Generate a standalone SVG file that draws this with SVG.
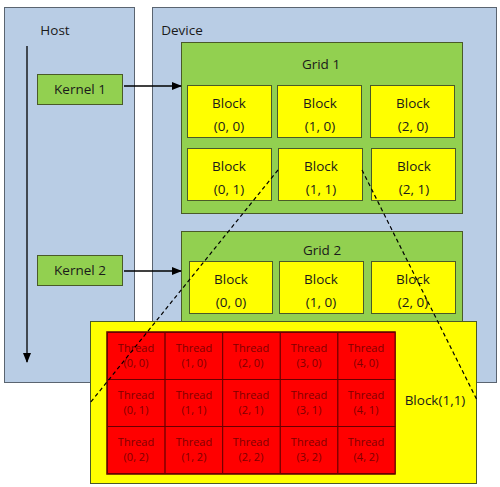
<svg xmlns="http://www.w3.org/2000/svg" width="500" height="487" viewBox="0 0 500 487">
<style>
text{font-family:"Open Sans","Liberation Sans",sans-serif;fill:#1a1a1a;text-anchor:middle}
.panel{fill:#b9cde5;stroke:#5a6470;stroke-width:1}
.green{fill:#92d050;stroke:#4a5a28;stroke-width:1}
.block{fill:#ffff00;stroke:#4a5a28;stroke-width:1}
.thr{fill:#ff0000;stroke:#6a0000;stroke-width:1}
.t13{font-size:13.5px}
.t11{font-size:11px;fill:#800000}
.conn{stroke:#000;stroke-width:1.3;fill:none}
.dash{stroke:#000;stroke-width:1.2;stroke-dasharray:4,3;fill:none}
</style>
<defs>
<marker id="ah" markerWidth="10" markerHeight="8" refX="9" refY="4" orient="auto" markerUnits="userSpaceOnUse">
<path d="M0,0 L10,4 L0,8 Z" fill="#000"/>
</marker>
</defs>
<g id="host">
<rect class="panel" x="4.5" y="7.5" width="130" height="375"/>
<text class="t13" x="55" y="35">Host</text>
</g>
<g id="device">
<rect class="panel" x="152.5" y="7.5" width="344" height="375"/>
<text class="t13" x="182" y="35">Device</text>
</g>
<g id="kernel1">
<rect class="green" x="37.5" y="74.5" width="85" height="30"/>
<text class="t13" x="80" y="94">Kernel 1</text>
</g>
<g id="kernel2">
<rect class="green" x="37.5" y="255.5" width="85" height="30"/>
<text class="t13" x="80" y="275">Kernel 2</text>
</g>
<g id="grid1">
<rect class="green" x="181.5" y="42.5" width="281" height="171"/>
<text class="t13" x="321" y="69">Grid 1</text>
</g>
<g id="g1b00"><rect class="block" x="187.5" y="85.5" width="84" height="52"/><text class="t13" x="229" y="108">Block</text><text class="t13" x="229" y="131">(0, 0)</text></g>
<g id="g1b10"><rect class="block" x="277.5" y="85.5" width="84" height="52"/><text class="t13" x="320" y="108">Block</text><text class="t13" x="320" y="131">(1, 0)</text></g>
<g id="g1b20"><rect class="block" x="370.5" y="85.5" width="84" height="52"/><text class="t13" x="413" y="108">Block</text><text class="t13" x="413" y="131">(2, 0)</text></g>
<g id="g1b01"><rect class="block" x="187.5" y="148.5" width="84" height="52"/><text class="t13" x="229" y="171">Block</text><text class="t13" x="229" y="194">(0, 1)</text></g>
<g id="g1b11"><rect class="block" x="278.5" y="148.5" width="84" height="52"/><text class="t13" x="321" y="171">Block</text><text class="t13" x="321" y="194">(1, 1)</text></g>
<g id="g1b21"><rect class="block" x="371.5" y="148.5" width="84" height="52"/><text class="t13" x="414" y="171">Block</text><text class="t13" x="414" y="194">(2, 1)</text></g>
<g id="grid2">
<rect class="green" x="181.5" y="231.5" width="281" height="100"/>
<text class="t13" x="322" y="255">Grid 2</text>
</g>
<g id="g2b00"><rect class="block" x="189.5" y="261.5" width="83" height="52"/><text class="t13" x="231" y="284">Block</text><text class="t13" x="231" y="307">(0, 0)</text></g>
<g id="g2b10"><rect class="block" x="279.5" y="261.5" width="84" height="52"/><text class="t13" x="321" y="284">Block</text><text class="t13" x="321" y="307">(1, 0)</text></g>
<g id="g2b20"><rect class="block" x="371.5" y="261.5" width="84" height="52"/><text class="t13" x="413" y="284">Block</text><text class="t13" x="413" y="307">(2, 0)</text></g>
<g id="block11">
<rect class="block" x="90.5" y="321.5" width="386" height="162"/>
<text class="t13" x="435" y="405">Block(1,1)</text>
</g>
<g id="threads">
<rect x="107" y="332" width="288" height="142" fill="#ff0000" stroke="#5a0000" stroke-width="1.5"/>
<g id="t00"><rect class="thr" x="107.5" y="332.5" width="57.6" height="47"/><text class="t11" x="136" y="352">Thread</text><text class="t11" x="136" y="367">(0, 0)</text></g>
<g id="t10"><rect class="thr" x="165.1" y="332.5" width="57.6" height="47"/><text class="t11" x="194" y="352">Thread</text><text class="t11" x="194" y="367">(1, 0)</text></g>
<g id="t20"><rect class="thr" x="222.7" y="332.5" width="57.6" height="47"/><text class="t11" x="251" y="352">Thread</text><text class="t11" x="251" y="367">(2, 0)</text></g>
<g id="t30"><rect class="thr" x="280.3" y="332.5" width="57.6" height="47"/><text class="t11" x="309" y="352">Thread</text><text class="t11" x="309" y="367">(3, 0)</text></g>
<g id="t40"><rect class="thr" x="337.9" y="332.5" width="57.1" height="47"/><text class="t11" x="366" y="352">Thread</text><text class="t11" x="366" y="367">(4, 0)</text></g>
<g id="t01"><rect class="thr" x="107.5" y="379.5" width="57.6" height="47"/><text class="t11" x="136" y="399">Thread</text><text class="t11" x="136" y="414">(0, 1)</text></g>
<g id="t11"><rect class="thr" x="165.1" y="379.5" width="57.6" height="47"/><text class="t11" x="194" y="399">Thread</text><text class="t11" x="194" y="414">(1, 1)</text></g>
<g id="t21"><rect class="thr" x="222.7" y="379.5" width="57.6" height="47"/><text class="t11" x="251" y="399">Thread</text><text class="t11" x="251" y="414">(2, 1)</text></g>
<g id="t31"><rect class="thr" x="280.3" y="379.5" width="57.6" height="47"/><text class="t11" x="309" y="399">Thread</text><text class="t11" x="309" y="414">(3, 1)</text></g>
<g id="t41"><rect class="thr" x="337.9" y="379.5" width="57.1" height="47"/><text class="t11" x="366" y="399">Thread</text><text class="t11" x="366" y="414">(4, 1)</text></g>
<g id="t02"><rect class="thr" x="107.5" y="426.5" width="57.6" height="47"/><text class="t11" x="136" y="446">Thread</text><text class="t11" x="136" y="461">(0, 2)</text></g>
<g id="t12"><rect class="thr" x="165.1" y="426.5" width="57.6" height="47"/><text class="t11" x="194" y="446">Thread</text><text class="t11" x="194" y="461">(1, 2)</text></g>
<g id="t22"><rect class="thr" x="222.7" y="426.5" width="57.6" height="47"/><text class="t11" x="251" y="446">Thread</text><text class="t11" x="251" y="461">(2, 2)</text></g>
<g id="t32"><rect class="thr" x="280.3" y="426.5" width="57.6" height="47"/><text class="t11" x="309" y="446">Thread</text><text class="t11" x="309" y="461">(3, 2)</text></g>
<g id="t42"><rect class="thr" x="337.9" y="426.5" width="57.1" height="47"/><text class="t11" x="366" y="446">Thread</text><text class="t11" x="366" y="461">(4, 2)</text></g>
</g>
<g id="connectors">
<line class="conn" x1="27" y1="46" x2="27" y2="362" marker-end="url(#ah)"/>
<line class="conn" x1="124" y1="86" x2="181" y2="86" marker-end="url(#ah)"/>
<line class="conn" x1="124" y1="271" x2="181" y2="271" marker-end="url(#ah)"/>
<line class="dash" x1="278" y1="170" x2="90" y2="403"/>
<line class="dash" x1="362" y1="170" x2="477" y2="400"/>
</g>
</svg>
